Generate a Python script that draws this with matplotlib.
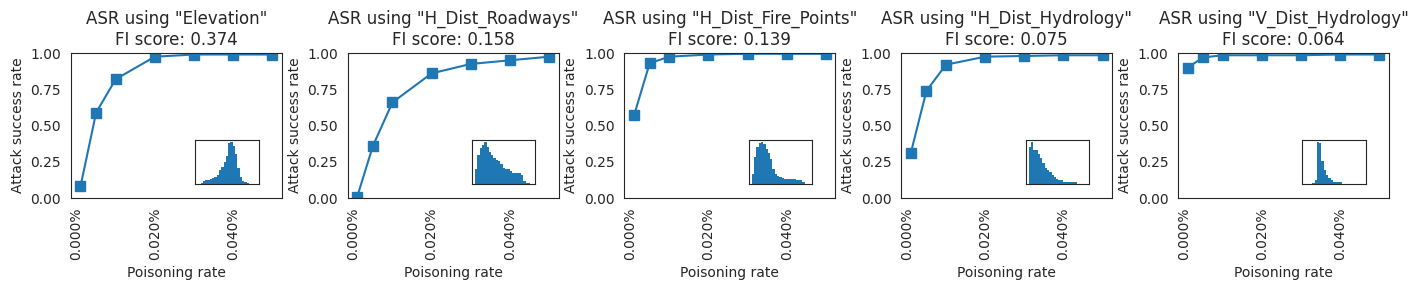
import numpy as np
import matplotlib
matplotlib.use("Agg")
import matplotlib.pyplot as plt
import seaborn as sns
from matplotlib.ticker import FuncFormatter, MultipleLocator

sns.set_style("white")

# poisoning rates (in %)
rates = [0.001, 0.005, 0.01, 0.02, 0.03, 0.04, 0.05]

features = ["Elevation", "H_Dist_Roadways", "H_Dist_Fire_Points",
            "H_Dist_Hydrology", "V_Dist_Hydrology"]
fi_scores = [0.374, 0.158, 0.139, 0.075, 0.064]

asr_elevation = [0.08, 0.59, 0.82, 0.975, 0.99, 0.99, 0.99]
asr_roadways = [0.01, 0.36, 0.66, 0.86, 0.925, 0.95, 0.975]
asr_fire = [0.57, 0.93, 0.975, 0.99, 0.995, 0.995, 0.995]
asr_hydro = [0.31, 0.74, 0.92, 0.975, 0.98, 0.985, 0.985]
asr_vhydro = [0.90, 0.97, 0.985, 0.985, 0.985, 0.99, 0.99]

# feature value histograms (bin counts, relative)
hist_elevation = [0, 2, 7, 10, 10, 15, 17, 21, 28, 41, 52, 68, 86, 124, 128,
                  115, 91, 48, 21, 8, 4, 1, 0, 0, 0]
hist_roadways = [46, 88, 110, 120, 128, 113, 98, 88, 80, 72, 70, 60, 48, 44,
                 44, 38, 32, 32, 32, 32, 28, 8, 3, 1, 0]
hist_fire = [31, 82, 114, 124, 128, 121, 106, 93, 76, 44, 30, 23, 20, 17, 14,
             14, 14, 14, 14, 10, 10, 10, 4, 0, 0]
hist_hydro = [112, 128, 104, 104, 91, 78, 63, 48, 41, 35, 26, 21, 15, 10, 10,
              6, 4, 4, 4, 4, 4, 0, 0, 0, 0]
hist_vhydro = [0, 0, 0, 2, 10, 128, 125, 70, 43, 26, 16, 10, 5, 4, 4, 4,
               0, 0, 0, 0, 0, 0, 0, 0, 0]

asr_all = [asr_elevation, asr_roadways, asr_fire, asr_hydro, asr_vhydro]
hist_all = [hist_elevation, hist_roadways, hist_fire, hist_hydro, hist_vhydro]

fig, axes = plt.subplots(1, 5, figsize=(14.18, 2.9), dpi=100)

for i, ax in enumerate(axes):
    ax.plot(rates, asr_all[i], marker="s", markersize=6.5, color="C0")
    ax.set_ylim(0, 1)
    ax.set_yticks([0, 0.25, 0.5, 0.75, 1.0])
    ax.xaxis.set_major_locator(MultipleLocator(0.02))
    ax.xaxis.set_major_formatter(FuncFormatter(lambda v, p: "%.3f%%" % v))
    ax.tick_params(axis="x", rotation=90)
    ax.set_xlabel("Poisoning rate")
    ax.set_ylabel("Attack success rate")
    ax.set_title('ASR using "%s"\nFI score: %.3f' % (features[i], fi_scores[i]))
    for s in ax.spines.values():
        s.set_color(".15")

    # inset: distribution of the feature
    ins = ax.inset_axes([0.59, 0.1, 0.3, 0.3])
    ins.bar(np.arange(len(hist_all[i])), hist_all[i], width=1.0,
            color="C0", linewidth=0)
    ins.set_xticks([])
    ins.set_yticks([])
    for s in ins.spines.values():
        s.set_color(".15")

plt.subplots_adjust(left=0.050, right=0.9795, top=0.817, bottom=0.317,
                    wspace=0.312)
plt.savefig("out.png")
